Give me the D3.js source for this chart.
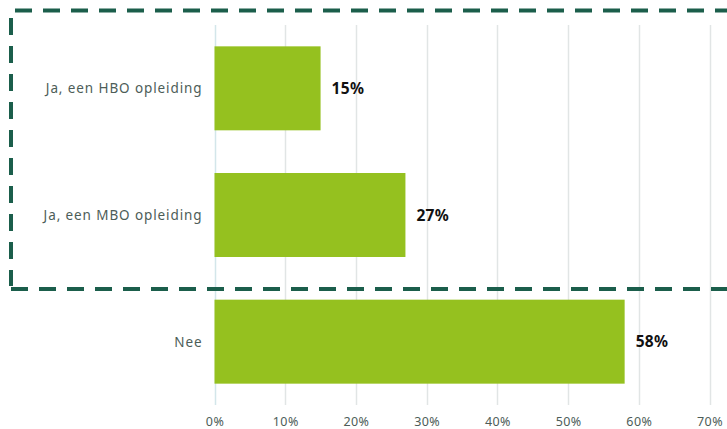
<!DOCTYPE html>
<html>
<head>
<meta charset="utf-8">
<script src="https://cdn.jsdelivr.net/npm/d3@7"></script>
<style>
  html, body { margin: 0; padding: 0; background: #ffffff; }
  svg { display: block; }
  .cat-label { font-family: "Noto Sans", sans-serif; font-size: 13.5px; letter-spacing: 0.9px; fill: #4d5d58; }
  .tick-label { font-family: "Noto Sans", sans-serif; font-size: 12.5px; letter-spacing: 0.4px; fill: #4d5d58; }
  .value-label { font-family: "Noto Sans", sans-serif; font-size: 15.5px; font-weight: 700; letter-spacing: 0.3px; fill: #111111; }
</style>
</head>
<body>
<svg id="chart" width="727" height="429"></svg>
<script>
// Survey answers and their shares (percent)
const categories = ["Ja, een HBO opleiding", "Ja, een MBO opleiding", "Nee"];
const values = [15, 27, 58];
const tickValues = [0, 10, 20, 30, 40, 50, 60, 70];

const width = 727, height = 429;
const plot = { left: 214.5, right: 709.5, top: 25, bottom: 405 };

const svg = d3.select("#chart");

const x = d3.scaleLinear().domain([0, 70]).range([plot.left, plot.right]);
const y = d3.scaleBand()
  .domain(categories)
  .range([plot.top, plot.bottom])
  .paddingInner(0.337)
  .paddingOuter(0.337 / 2);

// Vertical gridlines
svg.append("g")
  .selectAll("line")
  .data(tickValues)
  .join("line")
  .attr("x1", d => Math.round(x(d)) + 0.5)
  .attr("x2", d => Math.round(x(d)) + 0.5)
  .attr("y1", plot.top)
  .attr("y2", plot.bottom)
  .attr("stroke", d => d === 0 ? "#d3e6ea" : "#e1e5e5")
  .attr("stroke-width", 1.5);

// Bars
svg.append("g")
  .selectAll("rect")
  .data(values)
  .join("rect")
  .attr("x", x(0))
  .attr("y", (d, i) => y(categories[i]))
  .attr("width", d => x(d) - x(0))
  .attr("height", y.bandwidth())
  .attr("fill", "#95c11f");

// Value labels
svg.append("g")
  .selectAll("text")
  .data(values)
  .join("text")
  .attr("class", "value-label")
  .attr("x", d => x(d) + 11)
  .attr("y", (d, i) => y(categories[i]) + y.bandwidth() / 2)
  .attr("dy", "0.36em")
  .text(d => d + "%");

// Category labels
svg.append("g")
  .selectAll("text")
  .data(categories)
  .join("text")
  .attr("class", "cat-label")
  .attr("x", plot.left - 12)
  .attr("y", d => y(d) + y.bandwidth() / 2)
  .attr("dy", "0.36em")
  .attr("text-anchor", "end")
  .text(d => d);

// Bottom axis tick labels
const xAxis = d3.axisBottom(x)
  .tickValues(tickValues)
  .tickFormat(d => d + "%")
  .tickSize(0)
  .tickPadding(0);
const axisG = svg.append("g")
  .attr("transform", `translate(0, ${plot.bottom + 12.5})`)
  .call(xAxis);
axisG.select(".domain").remove();
axisG.selectAll("text")
  .attr("class", "tick-label")
  .attr("fill", null)
  .attr("font-family", null)
  .attr("font-size", null);

// Dashed highlight frame around the two "Ja" answers
const frame = { left: 11, top: 10.5, bottom: 289 };
const dash = "17,11";
const frameG = svg.append("g")
  .attr("fill", "none")
  .attr("stroke", "#1b5e4b")
  .attr("stroke-width", 4)
  .attr("stroke-dasharray", dash);
frameG.append("line")
  .attr("x1", 15).attr("x2", width + 20)
  .attr("y1", frame.top).attr("y2", frame.top);
frameG.append("line")
  .attr("x1", frame.left).attr("x2", frame.left)
  .attr("y1", 18).attr("y2", frame.bottom - 3);
frameG.append("line")
  .attr("x1", frame.left).attr("x2", width + 20)
  .attr("y1", frame.bottom).attr("y2", frame.bottom);
</script>
</body>
</html>
